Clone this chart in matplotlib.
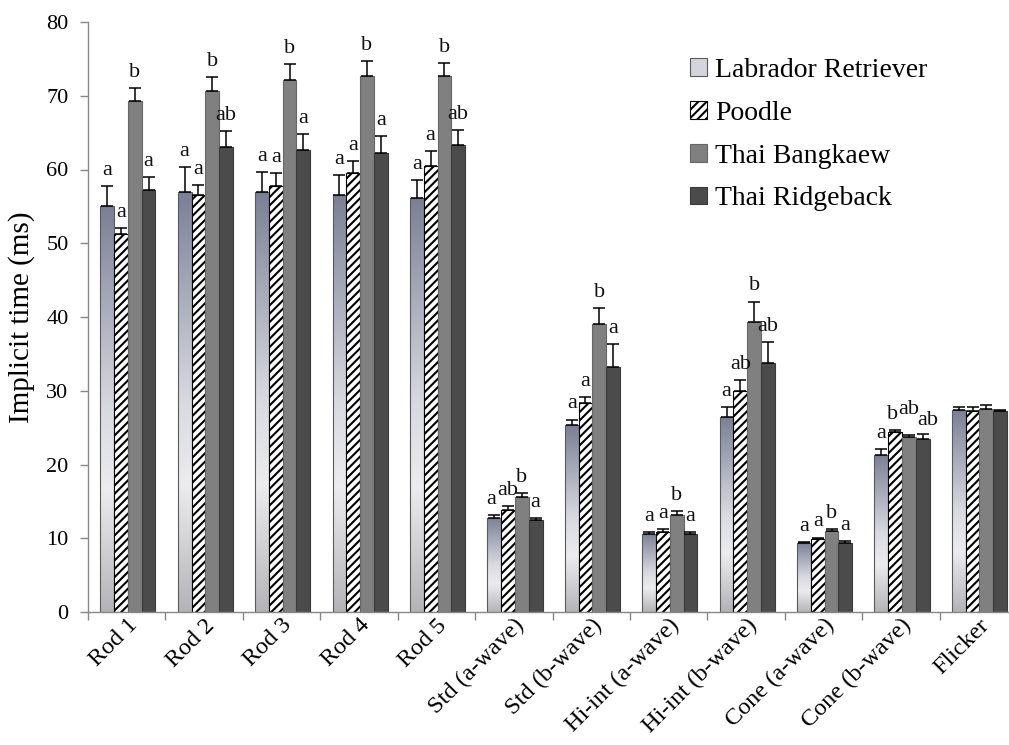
import numpy as np
import matplotlib
matplotlib.use("Agg")
import matplotlib.pyplot as plt
from matplotlib.colors import LinearSegmentedColormap
from matplotlib.patches import Patch

# ERG implicit times (ms) per breed, mean and upper SE
categories = ["Rod 1", "Rod 2", "Rod 3", "Rod 4", "Rod 5",
              "Std (a-wave)", "Std (b-wave)", "Hi-int (a-wave)",
              "Hi-int (b-wave)", "Cone (a-wave)", "Cone (b-wave)", "Flicker"]
breeds = ["Labrador Retriever", "Poodle", "Thai Bangkaew", "Thai Ridgeback"]

labrador = [55.0, 57.0, 57.0, 56.6, 56.2, 12.8, 25.3, 10.6, 26.5, 9.4, 21.3, 27.4]
poodle = [51.2, 56.5, 57.8, 59.5, 60.5, 13.8, 28.3, 10.9, 29.9, 9.9, 24.4, 27.3]
bangkaew = [69.3, 70.7, 72.1, 72.7, 72.7, 15.6, 39.0, 13.2, 39.3, 11.0, 23.7, 27.5]
ridgeback = [57.2, 63.0, 62.7, 62.3, 63.3, 12.5, 33.2, 10.6, 33.8, 9.4, 23.5, 27.3]

labrador_se = [2.8, 3.3, 2.6, 2.6, 2.4, 0.4, 0.8, 0.2, 1.3, 0.15, 0.8, 0.4]
poodle_se = [0.9, 1.4, 1.7, 1.6, 2.0, 0.6, 0.9, 0.4, 1.5, 0.2, 0.3, 0.5]
bangkaew_se = [1.7, 1.8, 2.2, 2.0, 1.8, 0.5, 2.2, 0.5, 2.8, 0.2, 0.3, 0.6]
ridgeback_se = [1.8, 2.2, 2.1, 2.2, 2.0, 0.2, 3.1, 0.2, 2.8, 0.2, 0.6, 0.1]

# significance letters (empty = not marked)
labrador_sig = ["a", "a", "a", "a", "a", "a", "a", "a", "a", "a", "a", ""]
poodle_sig = ["a", "a", "a", "a", "a", "ab", "a", "a", "ab", "a", "b", ""]
bangkaew_sig = ["b", "b", "b", "b", "b", "b", "b", "b", "b", "b", "ab", ""]
ridgeback_sig = ["a", "ab", "a", "a", "ab", "a", "a", "a", "ab", "a", "ab", ""]

means = [labrador, poodle, bangkaew, ridgeback]
errs = [labrador_se, poodle_se, bangkaew_se, ridgeback_se]
sigs = [labrador_sig, poodle_sig, bangkaew_sig, ridgeback_sig]

SERIF = ["Liberation Serif", "DejaVu Serif"]
plt.rcParams["font.family"] = SERIF
plt.rcParams["hatch.linewidth"] = 1.5

fig = plt.figure(figsize=(10.09, 7.45), dpi=100)
ax = fig.add_axes([88 / 1009, 133 / 745, 929 / 1009, 590 / 745])

x = np.arange(len(categories))
w = 0.178
offsets = (np.arange(4) - 1.5) * w + 0.015

lab_cmap = LinearSegmentedColormap.from_list(
    "lab", [(0.0, "#b4b4b8"), (0.3, "#ececee"), (0.5, "#d9dae0"), (1.0, "#7a7f95")])
styles = [
    dict(color="none", edgecolor="#5a5a5a"),
    dict(color="white", edgecolor="black", hatch="////"),
    dict(color="#808080", edgecolor="#666666"),
    dict(color="#4b4b4b", edgecolor="#3a3a3a"),
]

for i in range(4):
    xs = x + offsets[i]
    bars = ax.bar(xs, means[i], width=w, linewidth=0.8, zorder=2, **styles[i])
    ax.errorbar(xs, means[i], yerr=[np.zeros(len(x)), errs[i]], fmt="none",
                ecolor="black", elinewidth=1.1, capsize=4, capthick=1.1, zorder=3)
    if i == 0:
        grad = np.linspace(0, 1, 256).reshape(-1, 1)
        for b in bars:
            x0, h = b.get_x(), b.get_height()
            im = ax.imshow(grad, extent=[x0, x0 + w, 0, h], origin="lower",
                           aspect="auto", cmap=lab_cmap, zorder=1.9)
            im.set_clip_path(b)

# (dx, dy) shifts for letters that would otherwise collide
nudge = {(1, 10): (-0.03, 0.0), (2, 10): (0.0, 1.3), (3, 10): (0.07, -0.2),
         (0, 5): (-0.04, 0.0), (1, 5): (0.0, 0.0)}
for i in range(4):
    for j, s in enumerate(sigs[i]):
        if not s:
            continue
        dx, dy = nudge.get((i, j), (0.0, 0.0))
        y = means[i][j] + errs[i][j] + 1.5 + dy
        ax.text(x[j] + offsets[i] + dx, y, s, ha="center", va="baseline",
                fontsize=16, color="#111111")

ax.set_xlim(-0.5, len(categories) - 0.5)
ax.set_ylim(0, 80)
ax.set_yticks(np.arange(0, 81, 10))
ax.set_xticks(x)
ax.set_xticklabels(categories, rotation=45, ha="right", rotation_mode="anchor")
ax.set_xticks(np.arange(-0.5, len(categories), 1.0), minor=True)
ax.tick_params(axis="x", which="major", length=0, pad=2, labelsize=17.5)
ax.tick_params(axis="x", which="minor", length=6, color="#888888", width=1)
ax.tick_params(axis="y", length=6, color="#888888", width=1, labelsize=16, pad=8)
for sp in ["top", "right"]:
    ax.spines[sp].set_visible(False)
for sp in ["left", "bottom"]:
    ax.spines[sp].set_color("#888888")
    ax.spines[sp].set_linewidth(1)

ax.set_ylabel("Implicit time (ms)", fontsize=21, labelpad=8)

handles = [
    Patch(facecolor="#d4d5dc", edgecolor="#5a5a5a", linewidth=0.8),
    Patch(facecolor="white", edgecolor="black", hatch="////", linewidth=0.8),
    Patch(facecolor="#808080", edgecolor="#666666", linewidth=0.8),
    Patch(facecolor="#4b4b4b", edgecolor="#3a3a3a", linewidth=0.8),
]
fig.legend(handles, breeds, loc="upper left", bbox_to_anchor=(690 / 1009, 1 - 58 / 745),
           frameon=False, fontsize=20, handlelength=0.6, handleheight=0.6,
           handletextpad=0.3, labelspacing=0.64, borderpad=0, borderaxespad=0)

fig.savefig("out.png", dpi=100)
